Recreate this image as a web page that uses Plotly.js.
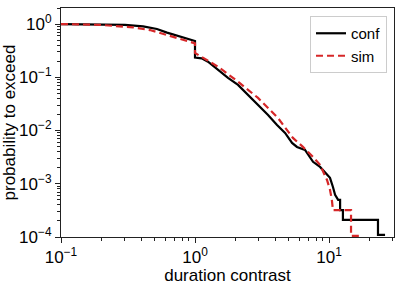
<!DOCTYPE html>
<html>
<head>
<meta charset="utf-8">
<script src="https://cdn.plot.ly/plotly-3.0.1.min.js"></script>
<style>html,body{margin:0;padding:0;background:#fff;}#chart{width:406px;height:285px;}</style>
</head>
<body>
<div id="chart"></div>
<script>
// conf: empirical survival curve (traced)
const confX = [0.1, 0.195, 0.3, 0.41, 0.52, 0.618, 0.773, 1.0, 1.0, 1.122, 1.25, 1.486, 1.763, 2.094, 2.489, 2.953, 3.508, 4.093, 4.70, 5.30, 5.77, 6.62, 7.60, 8.57, 10.17, 10.7, 11.1, 11.7, 12.1, 12.1, 12.7, 12.7, 23.2, 23.2, 26.2];
const confY = [1.0, 0.985, 0.96, 0.905, 0.806, 0.69, 0.585, 0.48, 0.235, 0.227, 0.196, 0.137, 0.097, 0.0718, 0.0466, 0.0302, 0.0196, 0.0127, 0.0090, 0.00585, 0.00492, 0.00433, 0.00258, 0.00207, 0.00129, 0.00087, 0.00062, 0.0005, 0.0005, 0.00032, 0.00032, 0.00021, 0.00021, 0.00011, 0.00011];
// sim: simulated survival curve (traced)
const simX = [0.1, 0.195, 0.344, 0.461, 0.618, 0.813, 1.0, 1.0, 1.25, 1.486, 2.094, 2.953, 4.16, 5.38, 6.39, 7.60, 8.57, 9.66, 10.17, 10.5, 10.7, 14.6, 14.6, 17.0];
const simY = [1.0, 0.965, 0.867, 0.771, 0.622, 0.5, 0.434, 0.286, 0.202, 0.158, 0.0827, 0.0409, 0.0172, 0.00726, 0.00492, 0.0032, 0.00226, 0.00118, 0.00077, 0.0005, 0.00032, 0.00032, 0.000105, 0.000105];
const xTickVals = [0.1, 1, 10];
const xTickText = ['10<sup>−1</sup>', '10<sup>0</sup>', '10<sup>1</sup>'];
const yTickVals = [1e-4, 1e-3, 1e-2, 1e-1, 1];
const yTickText = ['10<sup>−4</sup>', '10<sup>−3</sup>', '10<sup>−2</sup>', '10<sup>−1</sup>', '10<sup>0</sup>'];

function minorVals(lo, hi) {
  const out = [];
  for (let e = lo; e <= hi; e++) for (let d = 2; d <= 9; d++) out.push(d * Math.pow(10, e));
  return out;
}

const fam = 'Liberation Sans, Arial, sans-serif';

const traces = [
  {x: confX, y: confY, name: 'conf', mode: 'lines', line: {color: '#000000', width: 2.2}},
  {x: simX, y: simY, name: 'sim', mode: 'lines', line: {color: '#d62728', width: 2.2, dash: '7px,4px'}}
];

const layout = {
  width: 406, height: 285,
  margin: {l: 61, r: 12, t: 8, b: 48},
  paper_bgcolor: '#fff', plot_bgcolor: '#fff',
  font: {family: fam, size: 15, color: '#000'},
  showlegend: true,
  legend: {x: 0.979, y: 0.965, xanchor: 'right', yanchor: 'top', bgcolor: '#fff', bordercolor: '#cccccc', borderwidth: 1, font: {family: fam, size: 15, color: '#000'}, tracegroupgap: 0},
  xaxis: {
    type: 'log', range: [-1, 1.485], showgrid: false, zeroline: false,
    showline: true, linecolor: '#222', linewidth: 1, mirror: true,
    ticks: 'outside', ticklen: 5, tickcolor: '#222',
    tickmode: 'array', tickvals: xTickVals, ticktext: xTickText,
    tickfont: {family: fam, size: 17, color: '#000'},
    minor: {ticks: 'outside', ticklen: 3, tickcolor: '#222', tickmode: 'array', tickvals: minorVals(-1, 1)},
    title: {text: 'duration contrast', font: {family: fam, size: 17, color: '#000'}, standoff: 2}
  },
  yaxis: {
    type: 'log', range: [-4, 0.301], showgrid: false, zeroline: false,
    showline: true, linecolor: '#222', linewidth: 1, mirror: true,
    ticks: 'outside', ticklen: 5, tickcolor: '#222',
    tickmode: 'array', tickvals: yTickVals, ticktext: yTickText,
    tickfont: {family: fam, size: 17, color: '#000'},
    minor: {ticks: 'outside', ticklen: 3, tickcolor: '#222', tickmode: 'array', tickvals: minorVals(-4, 0)},
    title: {text: 'probability to exceed', font: {family: fam, size: 17, color: '#000'}, standoff: 2}
  }
};

Plotly.newPlot('chart', traces, layout, {displayModeBar: false, staticPlot: true});
</script>
</body>
</html>
